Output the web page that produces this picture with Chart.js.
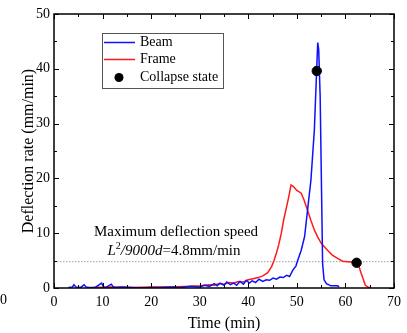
<!DOCTYPE html>
<html lang="en">

<head>
    <meta charset="UTF-8">
    <title>Deflection rate</title>
    <script src="https://cdn.jsdelivr.net/npm/chart.js"></script>
    <style>
        body { margin: 0; background: #fff; }
        #wrap { width: 407px; height: 333px; }
    </style>
</head>

<body>
    <div id="wrap">
        <canvas id="rateChart" width="407" height="333"></canvas>
    </div>

    <script>
        // values
        const beamTime = [3, 3.8, 4.1, 4.5, 5.5, 6.2, 6.6, 7.2, 8.5, 9.8, 10.2, 10.7, 11.8, 12.2, 12.7, 14, 16, 18, 20, 22, 24, 26, 28, 30, 31, 32, 33, 33.6, 34.2, 35, 35.6, 36.3, 37, 37.6, 38.3, 39, 39.6, 40.2, 40.8, 41.5, 42.2, 43, 43.7, 44.4, 45.1, 45.8, 46.5, 47.2, 47.9, 48.5, 49.2, 49.8, 50.2, 50.9, 51.6, 52.2, 52.9, 53.6, 54.0, 54.3, 54.5, 54.8, 55.1, 55.3, 55.6, 56.1, 57, 58.4, 58.7]
        const beamRate = [0.1, 0.2, 0.6, 0.2, 0.1, 0.6, 0.2, 0.1, 0.1, 0.9, 0.2, 0.1, 0.7, 0.2, 0.1, 0.2, 0.1, 0.0, 0.1, 0.1, 0.2, 0.1, 0.3, 0.2, 0.5, 0.3, 0.8, 0.4, 0.9, 0.5, 1.1, 0.6, 0.9, 0.5, 1.2, 0.7, 1.4, 0.9, 1.3, 1.0, 1.6, 1.2, 1.5, 1.4, 1.8, 1.6, 2.0, 1.9, 2.3, 2.1, 3.3, 4.0, 5.1, 6.9, 9.4, 14.2, 19.7, 28.8, 38, 44.8, 43.5, 34.9, 16.7, 4.5, 1.5, 0.8, 0.4, 0.4, 0.2]

        const frameTime = [8, 12, 16, 20, 24, 28, 30, 32, 33, 34, 35, 36, 37, 38, 39, 40, 41, 42, 43, 44, 44.8, 45.3, 45.8, 46.3, 46.8, 47.3, 47.8, 48.3, 48.8, 49.3, 50, 50.9, 51.5, 52.2, 52.9, 53.6, 54.3, 55, 55.7, 56.3, 57.3, 58.4, 59.4, 60.5, 61.8, 62.3, 62.8, 63.2, 63.6, 64.1, 64.6, 65.2]
        const frameRate = [0.1, 0.2, 0.1, 0.2, 0.2, 0.3, 0.4, 0.6, 0.5, 0.8, 0.7, 1.0, 0.9, 1.2, 1.1, 1.5, 1.7, 1.9, 2.2, 2.8, 3.9, 5.0, 6.4, 8.0, 10.0, 12.5, 14.5, 16.5, 18.8, 18.5, 17.8, 17.3, 16.0, 14.2, 12.3, 10.6, 9.3, 8.2, 7.5, 6.9, 6.0, 5.4, 4.9, 4.8, 4.7, 4.6, 3.9, 2.8, 1.8, 0.5, 0.2, 0.0]

        const collapseTime = [54.1, 62.3]
        const collapseRate = [39.6, 4.6]

        const limitTime = [0, 70]
        const limitRate = [4.8, 4.8]

        const xTicks = [0, 10, 20, 30, 40, 50, 60, 70]
        const yTicks = [0, 10, 20, 30, 40, 50]

        const pts = (xs, ys) => xs.map((x, i) => ({ x: x, y: ys[i] }))
        const serif = "'Liberation Serif', 'Times New Roman', serif"

        // frame, inward ticks, legend box and the note
        const decor = {
            id: 'decor',
            afterDatasetsDraw(chart) {
                const { ctx, chartArea: a, scales } = chart
                const xs = scales.x, ys = scales.y
                ctx.save()
                ctx.strokeStyle = '#000'
                ctx.lineWidth = 1
                for (let v = 0; v <= 70; v += 5) {
                    const px = Math.round(xs.getPixelForValue(v)) + 0.5
                    const len = v % 10 === 0 ? 5 : 3
                    ctx.beginPath()
                    ctx.moveTo(px, a.bottom); ctx.lineTo(px, a.bottom - len)
                    ctx.moveTo(px, a.top); ctx.lineTo(px, a.top + len)
                    ctx.stroke()
                }
                for (let v = 0; v <= 50; v += 5) {
                    const py = Math.round(ys.getPixelForValue(v)) + 0.5
                    const len = v % 10 === 0 ? 5 : 3
                    ctx.beginPath()
                    ctx.moveTo(a.left, py); ctx.lineTo(a.left + len, py)
                    ctx.moveTo(a.right, py); ctx.lineTo(a.right - len, py)
                    ctx.stroke()
                }
                ctx.lineWidth = 1.5
                ctx.strokeRect(a.left, a.top, a.right - a.left, a.bottom - a.top)

                // legend
                ctx.lineWidth = 1
                ctx.strokeStyle = '#555'
                ctx.fillStyle = '#fff'
                ctx.fillRect(102, 33, 121, 55)
                ctx.strokeRect(102.5, 33.5, 121, 55)
                const rows = [
                    { label: chart.data.datasets[0].label, color: chart.data.datasets[0].borderColor, y: 42.5 },
                    { label: chart.data.datasets[1].label, color: chart.data.datasets[1].borderColor, y: 59.5 },
                    { label: chart.data.datasets[2].label, color: '#000', y: 77.5, dot: true }
                ]
                ctx.font = '14px ' + serif
                ctx.textBaseline = 'middle'
                rows.forEach(r => {
                    if (r.dot) {
                        ctx.fillStyle = '#000'
                        ctx.beginPath(); ctx.arc(119, r.y, 4.5, 0, Math.PI * 2); ctx.fill()
                    } else {
                        ctx.strokeStyle = r.color
                        ctx.lineWidth = 1.5
                        ctx.beginPath(); ctx.moveTo(104, r.y); ctx.lineTo(135, r.y); ctx.stroke()
                    }
                    ctx.fillStyle = '#000'
                    ctx.fillText(r.label, 140, r.y)
                })

                // note above the limit line
                ctx.font = '15px ' + serif
                ctx.textAlign = 'center'
                ctx.fillText('Maximum deflection speed', 176, 232)
                const parts = [
                    { t: 'L', f: 'italic 15px ' + serif, dy: 0 },
                    { t: '2', f: '10px ' + serif, dy: -5 },
                    { t: '/9000d', f: 'italic 15px ' + serif, dy: 0 },
                    { t: '=4.8mm/min', f: '15px ' + serif, dy: 0 }
                ]
                let w = 0
                parts.forEach(p => { ctx.font = p.f; p.w = ctx.measureText(p.t).width; w += p.w })
                let x = 174 - w / 2
                ctx.textAlign = 'left'
                parts.forEach(p => {
                    ctx.font = p.f
                    ctx.fillText(p.t, x, 251 + p.dy)
                    x += p.w
                })

                // stray label at the far left
                ctx.font = '14px ' + serif
                ctx.fillText('0', 0, 300)
                ctx.restore()
            }
        }

        const config = {
            type: 'line',
            data: {
                datasets: [{
                    label: 'Beam',
                    data: pts(beamTime, beamRate),
                    borderColor: '#1010ff',
                    borderWidth: 1.5,
                    pointRadius: 0,
                    tension: 0,
                    order: 2
                }, {
                    label: 'Frame',
                    data: pts(frameTime, frameRate),
                    borderColor: '#ff1a1a',
                    borderWidth: 1.5,
                    pointRadius: 0,
                    tension: 0,
                    order: 3
                }, {
                    label: 'Collapse state',
                    type: 'scatter',
                    data: pts(collapseTime, collapseRate),
                    backgroundColor: '#000',
                    borderColor: '#000',
                    pointRadius: 4.7,
                    order: 0
                }, {
                    label: 'limit',
                    data: pts(limitTime, limitRate),
                    borderColor: '#888',
                    borderWidth: 0.8,
                    borderDash: [1.5, 1.5],
                    pointRadius: 0,
                    order: 4
                }]
            },
            options: {
                responsive: false,
                animation: false,
                layout: { padding: { top: 14, right: 10, left: 0, bottom: 0 } },
                plugins: { legend: { display: false }, tooltip: { enabled: false } },
                scales: {
                    x: {
                        type: 'linear',
                        min: 0, max: 70,
                        afterFit: s => { s.height = 45 },
                        afterBuildTicks: s => { s.ticks = xTicks.map(v => ({ value: v })) },
                        grid: { display: false, drawTicks: false },
                        border: { display: false },
                        ticks: { padding: 6, color: '#000', font: { family: serif, size: 14 }, maxRotation: 0 },
                        title: { display: true, text: 'Time (min)', color: '#000', font: { family: serif, size: 16 }, padding: { top: 1, bottom: 0 } }
                    },
                    y: {
                        min: 0, max: 50,
                        afterFit: s => { s.width = 54 },
                        afterBuildTicks: s => { s.ticks = yTicks.map(v => ({ value: v })) },
                        grid: { display: false, drawTicks: false },
                        border: { display: false },
                        ticks: { padding: 4, color: '#000', font: { family: serif, size: 14 } },
                        title: { display: true, text: 'Deflection rate (mm/min)', color: '#000', font: { family: serif, size: 16 }, padding: { top: 19, bottom: 0 } }
                    }
                }
            },
            plugins: [decor]
        }

        new Chart(document.getElementById('rateChart').getContext('2d'), config)
    </script>
</body>

</html>
